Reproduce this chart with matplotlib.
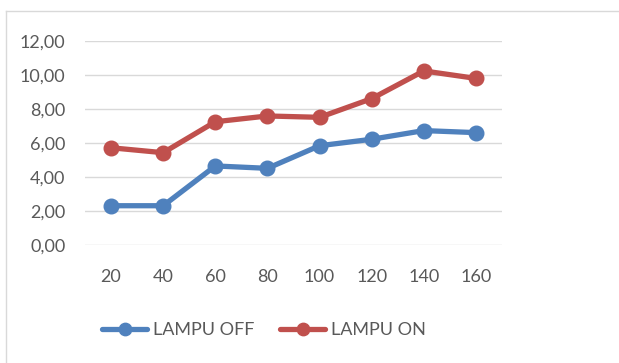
import matplotlib
matplotlib.use("Agg")
import matplotlib.pyplot as plt
from matplotlib.lines import Line2D

categories = ["20", "40", "60", "80", "100", "120", "140", "160"]
lampu_off = [2.31, 2.31, 4.65, 4.51, 5.84, 6.22, 6.73, 6.61]
lampu_on = [5.72, 5.43, 7.25, 7.59, 7.51, 8.61, 10.24, 9.80]
y_ticks = [0, 2, 4, 6, 8, 10, 12]

W, H = 619, 363
fig = plt.figure(figsize=(W / 100, H / 100), dpi=100)
fig.patch.set_facecolor("white")

plt.rcParams["font.family"] = ["Lato", "DejaVu Sans"]
text_color = "#595959"
grid_color = "#D9D9D9"
blue = "#4F81BD"
red = "#C0504D"

ax = fig.add_axes([85 / W, 118 / H, 417 / W, 204 / H])
x = list(range(len(categories)))
ax.plot(x, lampu_off, color=blue, lw=3.8, marker="o", ms=10.5,
        solid_capstyle="round", label="LAMPU OFF", zorder=3)
ax.plot(x, lampu_on, color=red, lw=3.8, marker="o", ms=10.5,
        solid_capstyle="round", label="LAMPU ON", zorder=3)

ax.set_xlim(-0.5, len(categories) - 0.5)
ax.set_ylim(0, 12)
ax.set_yticks(y_ticks)
ax.set_yticklabels([f"{v:.2f}".replace(".", ",") for v in y_ticks])
ax.set_xticks(x)
ax.set_xticklabels(categories)
ax.tick_params(axis="both", length=0, labelsize=13, colors=text_color)
ax.tick_params(axis="y", pad=14)
ax.tick_params(axis="x", pad=17)
ax.grid(axis="y", color=grid_color, lw=1.0)
ax.set_axisbelow(True)
for s in ax.spines.values():
    s.set_visible(False)

leg = fig.legend(loc="center", bbox_to_anchor=(264 / W, 1 - 330 / H), ncol=2,
                 frameon=False, fontsize=13, handlelength=2.5,
                 handletextpad=0.3, columnspacing=1.45, markerscale=0.85)
for t in leg.get_texts():
    t.set_color(text_color)

# chart area border
fig.add_artist(Line2D([5.5 / W, 5.5 / W], [0, 1 - 11 / H], color=grid_color,
                      lw=1.0, transform=fig.transFigure))
fig.add_artist(Line2D([5.5 / W, 1], [1 - 11 / H, 1 - 11 / H], color=grid_color,
                      lw=1.0, transform=fig.transFigure))

fig.savefig("out.png", dpi=100, facecolor="white")
